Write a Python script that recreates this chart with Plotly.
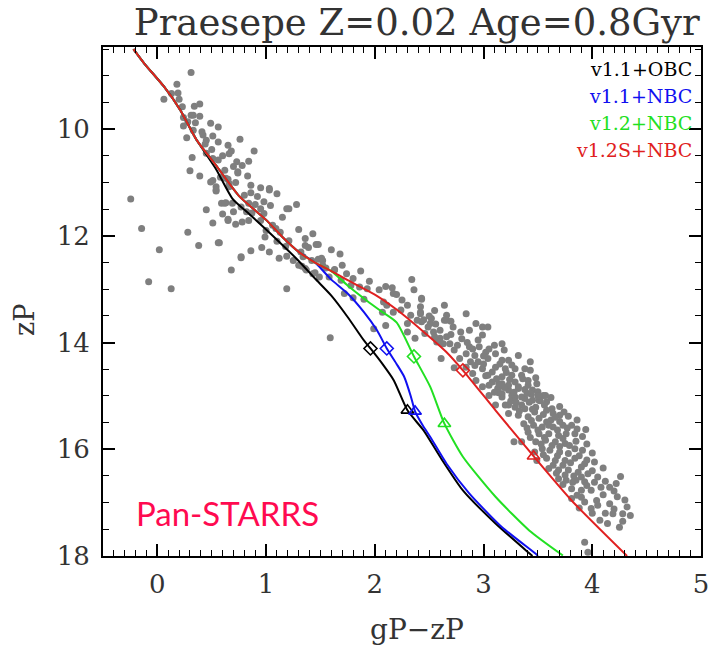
import plotly.graph_objects as go

# ---------------- data ----------------
star_x = [
 0.31,0.18,0.13,0.19,0.06,0.20,0.23,0.34,0.39,0.31,0.33,0.39,0.24,0.28,0.35,0.49,0.56,0.24,0.33,0.41,0.42,0.27,0.51,0.45,0.56,0.44,0.65,0.76,0.50,0.68,0.66,0.89,0.32,0.51,0.56,0.73,0.78,0.84,0.62,0.30,0.74,0.39,0.83,0.51,0.65,0.86,0.54,0.66,0.80,0.92,1.03,1.10,
 0.74,0.63,0.66,1.03,0.54,0.86,0.59,0.63,0.69,0.84,0.90,0.98,1.04,0.45,0.77,0.95,1.21,1.28,0.60,0.87,0.98,0.51,0.65,0.72,0.78,0.84,0.95,1.06,1.13,1.09,1.30,1.21,1.36,1.43,0.99,1.03,0.57,0.86,0.96,1.12,1.19,1.25,0.77,1.39,1.46,1.60,1.48,1.52,1.42,1.30,1.36,1.63,1.43,1.49,0.68,1.19,1.19,
 -0.245,-0.145,0.018,-0.08,0.127,0.28,0.38,0.56,0.65,0.77,0.54,0.49,0.62,
 1.36,1.48,1.68,1.34,1.51,1.52,1.33,1.37,1.45,1.63,1.74,1.87,1.58,1.69,1.78,1.86,1.93,2.04,2.16,2.17,2.34,2.36,1.72,1.80,1.90,2.08,2.11,2.24,2.17,2.07,2.33,2.43,2.42,2.45,2.39,2.30,2.51,2.60,2.64,2.64,2.54,2.46,2.60,2.63,2.57,2.30,2.10,1.99,1.59,2.37,
 2.43,2.42,2.84,2.66,2.66,2.42,2.43,2.49,2.93,2.99,3.04,2.72,2.79,2.87,2.99,2.55,2.66,2.60,2.69,2.76,2.87,2.96,3.10,3.17,3.19,2.73,2.84,2.92,3.04,2.61,2.95,3.17,3.23,2.73,2.84,2.92,2.99,3.11,3.29,3.38,3.43,2.90,3.04,3.17,3.26,3.35,2.93,3.08,3.17,3.29,3.41,2.99,3.13,3.23,3.32,3.45,3.55,3.05,3.17,3.29,3.38,3.51,3.58,3.11,3.23,3.35,3.02,3.11,3.32,3.43,3.20,
 3.14,3.23,3.32,3.41,3.49,3.57,3.17,3.26,3.35,3.45,3.52,3.20,3.29,3.38,3.48,3.63,3.64,3.70,3.78,3.23,3.32,3.41,3.51,3.58,3.37,3.46,3.54,3.64,3.73,3.81,3.94,3.41,3.51,3.60,3.69,3.76,3.84,3.91,3.28,3.35,3.48,3.57,3.66,3.75,3.84,3.91,3.54,3.61,3.70,4.00,3.49,3.58,3.66,3.75,3.84,3.93,4.02,3.60,3.69,3.78,3.87,3.96,4.05,3.69,3.76,3.85,3.93,4.26,3.81,3.90,3.99,4.08,4.16,4.22,3.81,3.93,4.04,4.16,4.23,3.99,4.32,4.19,4.28,4.35,4.07,4.14,4.25,3.93,3.96,
 2.78,2.88,3.00,3.08,3.21,3.12,3.24,3.36,3.48,3.05,3.19,3.38,3.50,3.14,3.44,3.62,3.25,3.42,3.56,3.70,3.33,3.47,3.58,3.74,3.86,3.44,3.62,3.70,3.50,3.68,3.86,3.43,3.56,3.73,3.63,3.79,3.95,3.47,3.78,3.88,3.64,3.73,3.90,4.10,3.75,3.83,4.00,4.12,3.73,3.95,3.86,4.10,4.00,4.20,2.95,3.05,2.80,2.52,2.56,2.70,
 0.45,0.60,0.70,0.58,0.72,0.95,0.70,0.82,1.15,1.00,1.18,1.10,1.32,1.55,1.70,1.80,1.95,2.10,2.25,2.30,2.55,2.70,2.50,2.20,
 2.85,2.90,3.00,3.15,3.26,3.02,3.10,3.28,3.40,3.30,3.50,3.45,3.55,3.66,3.40,3.60,3.77,3.53,3.70,3.85,3.55,3.68,3.80,3.95,3.67,3.90,3.82,4.02,3.90,4.05,4.12,4.28,3.88,4.20,4.30,
]
star_y = [
 8.94,9.16,9.33,9.32,9.44,9.44,9.58,9.57,9.53,9.74,9.74,9.76,9.78,9.86,9.88,9.89,9.96,9.94,10.02,10.05,10.11,10.16,10.13,10.21,10.24,10.28,10.30,10.19,10.38,10.41,10.46,10.41,10.53,10.55,10.58,10.61,10.68,10.60,10.77,10.78,10.80,10.88,10.88,10.96,10.94,11.05,11.08,11.08,11.24,11.26,11.14,11.21,
 10.82,10.92,11.02,11.11,11.16,11.19,11.39,11.38,11.39,11.39,11.41,11.36,11.43,11.51,11.46,11.49,11.49,11.41,11.59,11.57,11.58,11.76,11.71,11.78,11.74,11.71,11.71,11.80,11.93,11.86,11.88,12.09,12.05,11.96,12.02,12.30,12.13,12.28,12.22,12.42,12.38,12.46,12.41,12.22,12.16,12.26,12.44,12.46,12.46,12.55,12.61,12.63,12.71,12.77,12.64,12.99,11.49,
 11.31,11.86,12.26,12.86,12.99,11.93,12.18,12.13,11.69,12.39,11.14,10.99,11.39,
 12.18,12.16,12.34,12.39,12.42,12.55,12.57,12.64,12.69,12.64,12.71,12.66,12.77,12.83,12.93,12.96,12.99,13.01,12.97,13.08,12.82,13.01,13.08,13.16,13.19,13.24,13.30,13.39,13.43,13.43,13.49,13.19,13.43,13.57,13.58,13.64,13.64,13.77,13.58,13.30,13.80,13.83,13.92,14.02,13.99,13.80,13.68,13.74,13.91,13.92,
 13.17,13.33,13.46,13.49,13.58,13.46,13.61,13.71,13.64,13.71,13.71,13.71,13.80,13.77,13.86,13.89,13.89,13.99,14.02,14.05,14.08,14.08,14.05,14.02,14.14,14.14,14.21,14.24,14.30,14.30,14.36,14.33,14.33,14.47,14.46,14.43,14.49,14.46,14.49,14.49,14.52,14.58,14.61,14.64,14.61,14.61,14.71,14.74,14.77,14.74,14.71,14.83,14.86,14.89,14.86,14.89,14.99,14.99,15.02,15.02,15.05,15.08,15.11,15.17,15.17,15.17,14.18,14.21,14.24,14.36,14.49,
 14.77,14.80,14.83,14.80,14.77,14.99,14.96,14.99,15.02,15.08,15.09,15.17,15.21,15.24,15.21,15.24,15.33,15.36,15.38,15.33,15.36,15.39,15.42,15.49,15.52,15.55,15.58,15.58,15.55,15.55,15.63,15.68,15.71,15.71,15.74,15.71,15.71,15.76,15.86,15.86,15.86,15.83,15.86,15.89,15.99,16.02,15.99,16.02,16.05,16.07,16.21,16.17,16.21,16.21,16.17,16.27,16.24,16.36,16.39,16.39,16.43,16.46,16.52,16.55,16.58,16.58,16.61,16.51,16.74,16.77,16.77,16.71,16.71,16.64,16.92,16.99,16.96,17.02,16.89,17.11,17.08,17.21,17.21,17.24,17.33,17.39,17.46,17.74,17.93,
 14.30,14.36,14.40,14.55,14.56,14.68,14.69,14.68,14.66,14.80,14.84,14.88,14.92,14.94,14.97,15.03,15.10,15.12,15.17,15.20,15.28,15.30,15.27,15.30,15.45,15.46,15.45,15.48,15.64,15.64,15.62,15.78,15.78,15.80,15.93,15.93,15.90,16.05,16.08,16.12,16.30,16.30,16.33,16.35,16.48,16.50,16.40,16.60,16.66,16.68,16.86,16.85,17.20,17.12,13.95,14.12,13.93,13.55,13.65,13.85,
 10.45,10.50,10.70,10.90,11.00,11.10,11.55,11.55,11.65,11.90,12.20,12.10,12.30,12.60,12.55,12.80,12.85,12.95,13.20,13.30,13.40,13.60,13.50,13.10,
 14.00,14.12,14.25,14.40,14.42,14.62,14.93,14.93,14.95,15.12,15.00,15.25,15.35,15.40,15.60,15.55,15.60,15.90,15.95,15.85,16.10,16.12,16.25,16.20,16.45,16.52,16.62,16.62,16.90,17.05,17.20,17.35,17.10,16.78,16.95,
]

# isochrones (colour gP-zP, magnitude zP)
iso_common_x = [-0.22, -0.12, 0.06, 0.21, 0.36]
iso_common_y = [8.5, 8.77, 9.2, 9.64, 10.2]

red_x = iso_common_x + [0.54, 0.75, 1.0, 1.15, 1.30, 1.45, 1.6, 1.75, 2.0, 2.2, 2.45, 2.66, 2.81, 3.11, 3.46, 3.81, 4.32]
red_y = iso_common_y + [10.68, 11.25, 11.7, 12.02, 12.3, 12.5, 12.66, 12.83, 13.1, 13.38, 13.8, 14.18, 14.52, 15.27, 16.13, 16.96, 18.0]

black_x = iso_common_x + [0.54, 0.69, 0.85, 1.0, 1.15, 1.30, 1.45, 1.6, 1.75, 1.9, 1.96, 2.07, 2.175, 2.3, 2.45, 2.6, 2.81, 3.11, 3.41, 3.45]
black_y = iso_common_y + [10.75, 11.3, 11.6, 11.88, 12.17, 12.47, 12.8, 13.12, 13.52, 13.96, 14.11, 14.4, 14.71, 15.27, 15.65, 16.14, 16.77, 17.39, 17.93, 18.0]

blue_x = red_x[:11] + [1.6, 1.75, 1.9, 2.02, 2.11, 2.2, 2.27, 2.33, 2.37, 2.44, 2.51, 2.66, 2.87, 3.17, 3.48, 3.5]
blue_y = red_y[:11] + [12.82, 13.08, 13.43, 13.77, 14.11, 14.4, 14.64, 15.0, 15.29, 15.55, 15.77, 16.27, 16.83, 17.46, 17.96, 18.0]

green_x = red_x[:12] + [1.75, 1.93, 2.05, 2.2, 2.36, 2.51, 2.64, 2.81, 3.11, 3.42, 3.73]
green_y = red_y[:12] + [12.93, 13.22, 13.4, 13.62, 14.26, 14.83, 15.52, 16.14, 16.89, 17.52, 17.99]

# marker positions (diamond, triangle) per model
diamond_x = [1.96, 2.11, 2.36, 2.81]
diamond_y = [14.11, 14.11, 14.26, 14.52]
triangle_x = [2.30, 2.37, 2.64, 3.46]
triangle_y = [15.27, 15.29, 15.52, 16.13]

models = ["v1.1+OBC", "v1.1+NBC", "v1.2+NBC", "v1.2S+NBC"]
colors = ["#000000", "#1010F0", "#22E022", "#E02020"]
iso_x = [black_x, blue_x, green_x, red_x]
iso_y = [black_y, blue_y, green_y, red_y]

x_ticks = [0, 1, 2, 3, 4, 5]
y_ticks = [10, 12, 14, 16, 18]

FONT = "DejaVu Serif"
TXT = "#333333"

fig = go.Figure()
fig.add_trace(go.Scatter(x=star_x, y=star_y, mode="markers",
                         marker=dict(color="#7F7F7F", size=7, line=dict(width=0)),
                         showlegend=False, hoverinfo="skip"))
for i in range(4):
    fig.add_trace(go.Scatter(x=iso_x[i], y=iso_y[i], mode="lines",
                             line=dict(color=colors[i], width=2, shape="spline", smoothing=0.6),
                             showlegend=False))
for i in range(4):
    fig.add_trace(go.Scatter(x=[diamond_x[i]], y=[diamond_y[i]], mode="markers",
                             marker=dict(symbol="diamond-open", size=10, color=colors[i], line=dict(width=1.6, color=colors[i])),
                             showlegend=False))
    fig.add_trace(go.Scatter(x=[triangle_x[i]], y=[triangle_y[i]], mode="markers",
                             marker=dict(symbol="triangle-up-open", size=11, color=colors[i], line=dict(width=1.6, color=colors[i])),
                             showlegend=False))

axis_common = dict(showline=True, linecolor="black", linewidth=2, mirror="allticks",
                   ticks="inside", tickcolor="black", tickwidth=1.5, ticklen=12,
                   showgrid=False, zeroline=False,
                   tickfont=dict(family=FONT, size=26, color=TXT))

fig.update_xaxes(range=[-0.5, 5.0], tickvals=x_ticks, ticktext=[str(v) for v in x_ticks],
                 minor=dict(dtick=0.1, ticks="inside", ticklen=6, tickcolor="black", tickwidth=1.2, showgrid=False),
                 ticklabelstandoff=4, **axis_common)
fig.update_yaxes(range=[18, 8.46], tickvals=y_ticks, ticktext=[str(v) for v in y_ticks],
                 minor=dict(dtick=0.5, tick0=0, ticks="inside", ticklen=6, tickcolor="black", tickwidth=1.2, showgrid=False),
                 ticklabelstandoff=6, **axis_common)

annotations = []
leg_y = [0.956, 0.903, 0.850, 0.797]
for i in range(4):
    annotations.append(dict(text=models[i], xref="paper", yref="paper", x=0.989, y=leg_y[i],
                            xanchor="right", yanchor="middle", showarrow=False,
                            font=dict(family=FONT, size=19, color=colors[i])))
annotations.append(dict(text="Pan-STARRS", xref="paper", yref="paper", x=0.052, y=0.085,
                        xanchor="left", yanchor="middle", showarrow=False,
                        font=dict(family="Lato", size=33, color="#FF0A50")))
annotations.append(dict(text="gP\u2212zP", xref="paper", yref="paper", x=0.525, y=-0.145,
                        xanchor="center", yanchor="middle", showarrow=False,
                        font=dict(family=FONT, size=28, color=TXT)))
annotations.append(dict(text="zP", xref="paper", yref="paper", x=-0.13, y=0.464,
                        xanchor="center", yanchor="middle", showarrow=False, textangle=-90,
                        font=dict(family=FONT, size=27, color=TXT)))

fig.update_layout(
    width=721, height=650,
    margin=dict(l=103, r=14, t=47, b=94),
    paper_bgcolor="white", plot_bgcolor="white",
    title=dict(text="Praesepe Z=0.02 Age=0.8Gyr", x=0.578, xanchor="center",
               y=0.966, yanchor="middle", yref="container",
               font=dict(family=FONT, size=37, color=TXT)),
    annotations=annotations,
    showlegend=False,
)

fig.write_html("out.html")
